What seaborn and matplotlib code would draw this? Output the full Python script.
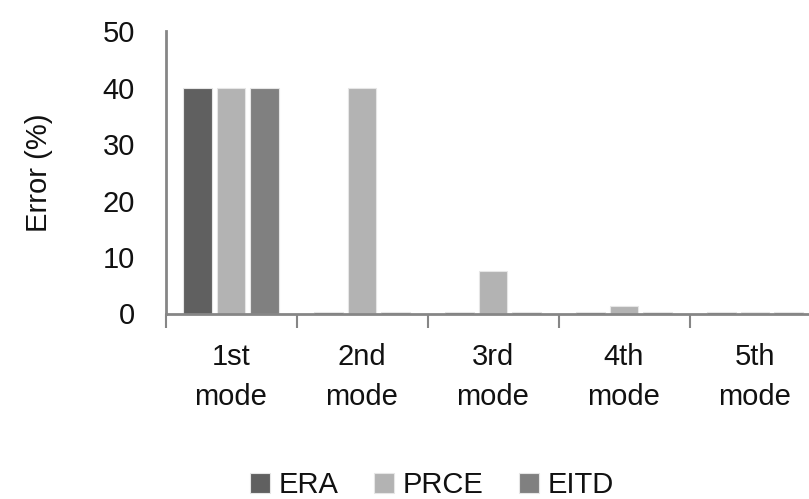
import matplotlib
matplotlib.use("Agg")
import matplotlib.pyplot as plt
import seaborn as sns
import pandas as pd
import numpy as np

# values
modes = ['1st\nmode', '2nd\nmode', '3rd\nmode', '4th\nmode', '5th\nmode']
methods = ['ERA', 'PRCE', 'EITD']
era = [40, 0.3, 0.3, 0.3, 0.3]
prce = [40, 40, 7.6, 1.3, 0.3]
eitd = [40, 0.3, 0.3, 0.3, 0.3]
colors = ['#606060', '#b3b3b3', '#808080']

df = pd.DataFrame({
    'Mode': modes * 3,
    'Method': [m for m in methods for _ in modes],
    'Error': era + prce + eitd,
})

sns.set_theme(style="white")
plt.rcParams['font.family'] = ['Liberation Sans', 'DejaVu Sans']
FS = 21

fig = plt.figure(figsize=(8.09, 4.99), dpi=100)
ax = fig.add_axes([165.5 / 809, 1 - 313.5 / 499, 655 / 809, 282.5 / 499])

sns.barplot(data=df, x='Mode', y='Error', hue='Method', palette=colors,
            width=0.77, gap=0.14, edgecolor='#e6e6e6', linewidth=0.8,
            ax=ax, legend=True)

ax.set_ylim(0, 50)
ax.set_xlim(-0.5, 4.5)
ax.set_yticks(np.arange(0, 51, 10))
ax.tick_params(axis='y', length=0, pad=22, labelsize=FS, labelcolor='#111111')

# ticks between categories, labels at category centres
ax.set_xticks(np.arange(-0.5, 5, 1), labels=[''] * 6)
ax.set_xticks(np.arange(5), labels=modes, minor=True)
ax.tick_params(axis='x', which='major', length=10, width=1.5, color='#868686', direction='out', bottom=True)
ax.tick_params(axis='x', which='minor', length=0, pad=21, labelsize=FS, labelcolor='#111111')
for lbl in ax.get_xticklabels(minor=True):
    lbl.set_linespacing(1.55)

for side in ['top', 'right']:
    ax.spines[side].set_visible(False)
for side in ['left', 'bottom']:
    ax.spines[side].set_color('#868686')
    ax.spines[side].set_linewidth(2)

ax.set_xlabel('')
ax.set_ylabel('Error (%)', fontsize=FS, color='#111111')
ax.yaxis.set_label_coords(-0.172, 0.5)

handles, labels = ax.get_legend_handles_labels()
ax.get_legend().remove()
fig.legend(handles, labels, loc='center', bbox_to_anchor=(432 / 809, 1 - 485 / 499),
           ncol=3, frameon=False, fontsize=FS, handlelength=0.7, handleheight=0.7,
           handletextpad=0.3, columnspacing=1.2, labelcolor='#111111')

fig.savefig('out.png', dpi=100)
